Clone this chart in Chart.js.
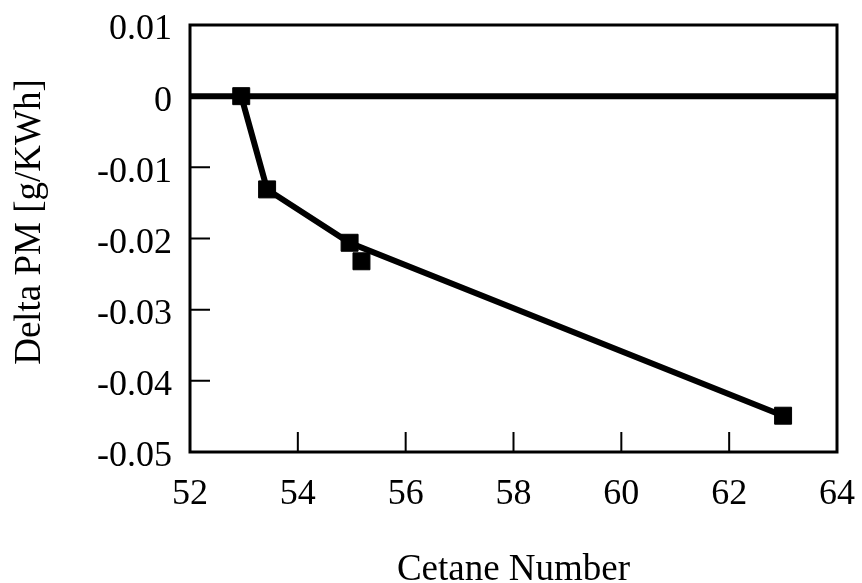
<!DOCTYPE html>
<html>
<head>
<meta charset="utf-8">
<script src="https://cdn.jsdelivr.net/npm/chart.js@4.4.0/dist/chart.umd.min.js"></script>
<style>
  html, body { margin: 0; padding: 0; background: #fff; }
  #wrap { width: 862px; height: 583px; position: relative; }
</style>
</head>
<body>
<div id="wrap"><canvas id="pmChart"></canvas></div>
<script>
// measured points
const cetane = [52.95, 53.43, 54.96, 55.18, 63.0];
const deltaPM = [0.0, -0.0131, -0.0206, -0.0232, -0.0449];

// trend line drawn through the samples (skips the 55.2 point)
const trendX = [52.95, 53.43, 54.96, 63.0];
const trendY = [0.0, -0.0131, -0.0206, -0.0449];

// zero reference across the whole x range
const zeroX = [52, 64];
const zeroY = [0, 0];

const xRange = { min: 52, max: 64, step: 2 };
const yRange = { min: -0.05, max: 0.01, step: 0.01 };

const xTitle = 'Cetane Number';
const yTitle = 'Delta PM [g/KWh]';

const FONT = "'Liberation Serif', 'Times New Roman', serif";
const FONT_SIZE = 36;

const toXY = (xs, ys) => xs.map((x, i) => ({ x, y: ys[i] }));

// box around the plot, inward tick marks and the two axis titles
const framePlugin = {
    id: 'frame',
    beforeDatasetsDraw(chart) {
        const { ctx, chartArea: a, scales } = chart;
        ctx.save();
        ctx.strokeStyle = '#000';
        ctx.lineWidth = 2;
        ctx.beginPath();
        scales.x.ticks.forEach(t => {
            const px = scales.x.getPixelForValue(t.value);
            ctx.moveTo(px, a.bottom);
            ctx.lineTo(px, a.bottom - 20);
        });
        scales.y.ticks.forEach(t => {
            const py = scales.y.getPixelForValue(t.value);
            ctx.moveTo(a.left, py);
            ctx.lineTo(a.left + 20, py);
        });
        ctx.stroke();
        ctx.lineWidth = 3;
        ctx.strokeRect(a.left, a.top, a.right - a.left, a.bottom - a.top);
        ctx.restore();
    },
    afterDraw(chart) {
        const { ctx, chartArea: a } = chart;
        ctx.save();
        ctx.fillStyle = '#000';
        ctx.font = `${FONT_SIZE + 1}px ${FONT}`;
        ctx.textAlign = 'center';
        ctx.textBaseline = 'alphabetic';
        ctx.fillText(xTitle, (a.left + a.right) / 2, 580);
        ctx.translate(40, 222);
        ctx.rotate(-Math.PI / 2);
        ctx.fillText(yTitle, 0, 0);
        ctx.restore();
    }
};

new Chart(document.getElementById('pmChart'), {
    type: 'scatter',
    data: {
        datasets: [
            {
                label: 'zero',
                data: toXY(zeroX, zeroY),
                showLine: true,
                borderColor: '#000',
                borderWidth: 6,
                pointRadius: 0,
                order: 3
            },
            {
                label: 'trend',
                data: toXY(trendX, trendY),
                showLine: true,
                borderColor: '#000',
                borderWidth: 6,
                borderJoinStyle: 'miter',
                pointRadius: 0,
                order: 2
            },
            {
                label: 'Delta PM',
                data: toXY(cetane, deltaPM),
                pointStyle: 'rect',
                pointRadius: 12,
                pointBorderWidth: 1,
                backgroundColor: '#000',
                borderColor: '#000',
                order: 1
            }
        ]
    },
    options: {
        responsive: true,
        maintainAspectRatio: false,
        animation: false,
        layout: { padding: { top: 25, right: 25, left: 0, bottom: 0 } },
        plugins: {
            legend: { display: false },
            tooltip: { enabled: false }
        },
        scales: {
            x: {
                type: 'linear',
                min: xRange.min,
                max: xRange.max,
                afterFit: s => {
                    s.height = 131;
                    s.paddingLeft = 0;
                    s.paddingRight = 0;
                },
                grid: { display: false, drawTicks: false },
                border: { display: false },
                ticks: {
                    stepSize: xRange.step,
                    padding: 21,
                    color: '#000',
                    font: { family: FONT, size: FONT_SIZE }
                }
            },
            y: {
                type: 'linear',
                min: yRange.min,
                max: yRange.max,
                afterFit: s => {
                    s.width = 190;
                    s.paddingTop = 0;
                    s.paddingBottom = 0;
                },
                grid: { display: false, drawTicks: false },
                border: { display: false },
                ticks: {
                    stepSize: yRange.step,
                    padding: 18,
                    labelOffset: 5,
                    color: '#000',
                    font: { family: FONT, size: FONT_SIZE },
                    callback: v => String(Math.round(v * 100) / 100)
                }
            }
        }
    },
    plugins: [framePlugin]
});
</script>
</body>
</html>
